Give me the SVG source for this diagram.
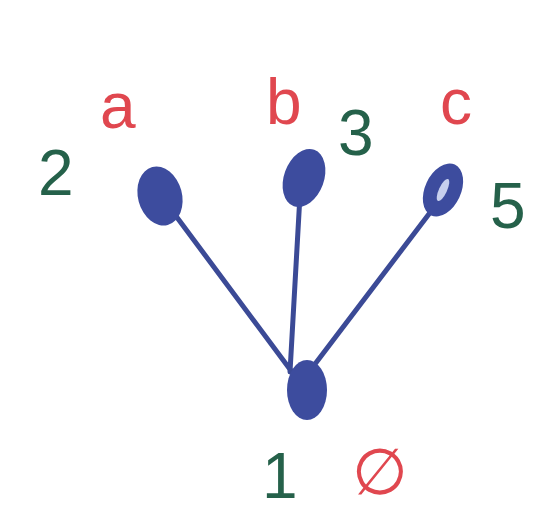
<svg xmlns="http://www.w3.org/2000/svg" width="548" height="514" viewBox="0 0 548 514">
<style>
.node{fill:#3d4c9e;}
.edge{stroke:#3b4a96;stroke-width:5;stroke-linecap:round;fill:none;}
.red{fill:#e0474f;font-family:"Liberation Sans",sans-serif;font-size:64px;}
.green{fill:#25614a;font-family:"Liberation Sans",sans-serif;font-size:64px;}
</style>
<rect width="548" height="514" fill="#ffffff"/>
<g id="connectors">
<path class="edge" d="M170,208 L292,372"/>
<path class="edge" d="M300,195 Q295,280 290,372"/>
<path class="edge" d="M432,210 L312,368"/>
</g>
<g id="node-a"><ellipse class="node" cx="160" cy="196" rx="22" ry="30" transform="rotate(-15 160 196)"/><text class="red" x="100" y="128">a</text><text class="green" x="38" y="195">2</text></g>
<g id="node-b"><ellipse class="node" cx="304" cy="178" rx="20" ry="30" transform="rotate(20 304 178)"/><text class="red" x="266" y="124">b</text><text class="green" x="338" y="155">3</text></g>
<g id="node-c"><ellipse class="node" cx="443" cy="190" rx="18" ry="28" transform="rotate(25 443 190)"/><ellipse cx="443" cy="190" rx="4" ry="12" fill="#c8d0ee" transform="rotate(25 443 190)"/><text class="red" x="440" y="124">c</text><text class="green" x="490" y="228">5</text></g>
<g id="node-root"><ellipse class="node" cx="307" cy="390" rx="20" ry="30"/><text class="green" x="262" y="498" font-size="56">1</text><text class="red" x="352" y="494">∅</text></g>
</svg>
